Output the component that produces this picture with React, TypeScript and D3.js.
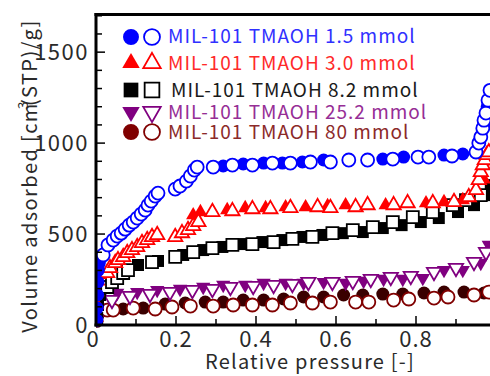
import React from "react";
import * as d3 from "d3";

// ---------- data (relative pressure, volume adsorbed) ----------
// 1.5 mmol (blue circles)
const blueAdsP = [0.002, 0.003, 0.004, 0.005, 0.006, 0.008, 0.012, 0.318, 0.368, 0.419, 0.466, 0.516, 0.569, 0.717, 0.769, 0.87, 0.917, 0.972, 0.978];
const blueAdsV = [27, 93, 165, 236, 302, 340, 368, 874, 885, 890, 890, 896, 907, 912, 923, 934, 940, 1100, 1200];
const blueDesP = [0.018, 0.03, 0.043, 0.053, 0.063, 0.073, 0.083, 0.093, 0.103, 0.113, 0.123, 0.13, 0.138, 0.148, 0.155, 0.198, 0.21, 0.226, 0.236, 0.246, 0.253, 0.293, 0.341, 0.391, 0.441, 0.486, 0.536, 0.586, 0.632, 0.679, 0.742, 0.805, 0.832, 0.89, 0.95, 0.957, 0.962, 0.967, 0.97, 0.975, 0.98, 0.985];
const blueDesV = [385, 440, 467, 489, 505, 527, 549, 566, 588, 610, 632, 659, 681, 709, 725, 747, 764, 791, 819, 852, 868, 868, 879, 879, 890, 890, 896, 896, 907, 907, 912, 923, 923, 929, 951, 1000, 1033, 1082, 1126, 1165, 1236, 1290];

// 3.0 mmol (red triangles)
const redAdsP = [0.002, 0.003, 0.004, 0.006, 0.01, 0.243, 0.261, 0.328, 0.373, 0.424, 0.474, 0.524, 0.579, 0.624, 0.724, 0.825, 0.87, 0.917, 0.97, 0.98];
const redAdsV = [40, 110, 180, 240, 275, 604, 621, 632, 643, 643, 648, 648, 654, 659, 659, 670, 676, 687, 800, 900];
const redDesP = [0.028, 0.035, 0.048, 0.055, 0.068, 0.078, 0.09, 0.103, 0.115, 0.128, 0.14, 0.153, 0.198, 0.215, 0.23, 0.243, 0.256, 0.291, 0.341, 0.391, 0.436, 0.486, 0.554, 0.586, 0.649, 0.679, 0.744, 0.779, 0.842, 0.895, 0.932, 0.95, 0.957, 0.962, 0.967, 0.972, 0.977, 0.982];
const redDesV = [286, 313, 341, 357, 374, 396, 412, 429, 451, 467, 484, 495, 484, 505, 522, 544, 566, 621, 626, 637, 637, 643, 648, 643, 648, 659, 659, 670, 670, 676, 703, 742, 797, 841, 879, 907, 934, 950];

// 8.2 mmol (black squares)
const blackAdsP = [0.003, 0.005, 0.01, 0.105, 0.155, 0.218, 0.268, 0.316, 0.366, 0.416, 0.466, 0.516, 0.566, 0.617, 0.667, 0.717, 0.764, 0.812, 0.857, 0.905, 0.945, 0.982, 0.987];
const blackAdsV = [38, 110, 165, 330, 352, 385, 412, 429, 445, 456, 467, 484, 495, 505, 511, 533, 549, 566, 588, 621, 659, 714, 769];
const blackDesP = [0.028, 0.04, 0.053, 0.068, 0.08, 0.14, 0.198, 0.243, 0.291, 0.341, 0.391, 0.444, 0.491, 0.541, 0.591, 0.642, 0.692, 0.742, 0.792, 0.842, 0.892, 0.925, 0.962];
const blackDesV = [209, 236, 258, 286, 302, 346, 374, 401, 423, 440, 445, 456, 473, 484, 505, 522, 538, 566, 593, 621, 659, 687, 714];

// 25.2 mmol (purple down-triangles)
const purpleAdsP = [0.003, 0.005, 0.01, 0.053, 0.103, 0.153, 0.21, 0.268, 0.318, 0.373, 0.419, 0.474, 0.519, 0.569, 0.624, 0.669, 0.719, 0.767, 0.817, 0.87, 0.917, 0.962, 0.982];
const purpleAdsV = [30, 90, 150, 176, 181, 192, 198, 209, 220, 220, 231, 231, 231, 236, 231, 242, 253, 253, 258, 302, 302, 341, 440];
const purpleDesP = [0.04, 0.085, 0.135, 0.185, 0.241, 0.291, 0.336, 0.393, 0.444, 0.491, 0.531, 0.591, 0.642, 0.687, 0.737, 0.787, 0.845, 0.9, 0.945, 0.975];
const purpleDesV = [137, 159, 170, 181, 192, 198, 209, 214, 220, 225, 236, 236, 242, 253, 264, 269, 291, 313, 346, 401];

// 80 mmol (maroon circles)
const maroonAdsP = [0.002, 0.004, 0.01, 0.068, 0.118, 0.173, 0.223, 0.273, 0.318, 0.368, 0.419, 0.469, 0.519, 0.569, 0.619, 0.667, 0.717, 0.767, 0.82, 0.87, 0.92, 0.97];
const maroonAdsV = [20, 50, 71, 88, 93, 115, 121, 126, 126, 137, 137, 143, 154, 154, 165, 165, 170, 170, 176, 181, 181, 176];
const maroonDesP = [0.028, 0.043, 0.093, 0.148, 0.19, 0.236, 0.293, 0.343, 0.391, 0.441, 0.486, 0.541, 0.586, 0.649, 0.682, 0.744, 0.782, 0.845, 0.88, 0.945, 0.982];
const maroonDesV = [82, 82, 93, 88, 99, 104, 104, 110, 110, 110, 121, 121, 126, 126, 126, 137, 143, 148, 154, 165, 181];

const legendLabels = [
  "MIL-101 TMAOH 1.5 mmol",
  "MIL-101 TMAOH 3.0 mmol",
  "MIL-101 TMAOH 8.2 mmol",
  "MIL-101 TMAOH 25.2 mmol",
  "MIL-101 TMAOH 80 mmol",
];
const xTickValues = [0, 0.2, 0.4, 0.6, 0.8, 1];
const xTickLabels = ["0", "0.2", "0.4", "0.6", "0.8", "1"];
const yTickValues = [0, 500, 1000, 1500];
const yTickLabels = ["0", "500", "1000", "1500"];

// ---------- layout ----------
const W = 490;
const H = 376;
const FONT = "'Noto Sans CJK JP', 'Noto Sans', sans-serif";
const left = 96;
const top = 14.5;
const bottom = 325;
const right = 496;

const x = d3.scaleLinear().domain([0, 1]).range([left, right]);
const y = d3.scaleLinear().domain([0, 1707]).range([bottom, top]);

type SeriesDef = {
  adsP: number[]; adsV: number[]; desP: number[]; desV: number[];
  shape: "circle" | "triangle" | "square" | "down";
  fill: string; stroke: string; text: string; legendFill: string;
};

const series: SeriesDef[] = [
  { adsP: blueAdsP, adsV: blueAdsV, desP: blueDesP, desV: blueDesV, shape: "circle", fill: "#0000ff", stroke: "#0000ff", text: "#3030ff", legendFill: "#0000ff" },
  { adsP: redAdsP, adsV: redAdsV, desP: redDesP, desV: redDesV, shape: "triangle", fill: "#ff0000", stroke: "#ff0000", text: "#ff2a2a", legendFill: "#ff0000" },
  { adsP: blackAdsP, adsV: blackAdsV, desP: blackDesP, desV: blackDesV, shape: "square", fill: "#000000", stroke: "#000000", text: "#1a1a1a", legendFill: "#000000" },
  { adsP: purpleAdsP, adsV: purpleAdsV, desP: purpleDesP, desV: purpleDesV, shape: "down", fill: "#800080", stroke: "#800080", text: "#962e96", legendFill: "#800080" },
  { adsP: maroonAdsP, adsV: maroonAdsV, desP: maroonDesP, desV: maroonDesV, shape: "circle", fill: "#3a0000", stroke: "#800000", text: "#8c2a2a", legendFill: "#800000" },
];

function symbolPath(shape: SeriesDef["shape"], scale: number) {
  if (shape === "circle") return d3.symbol().type(d3.symbolCircle).size(133 * scale)()!;
  if (shape === "square") return d3.symbol().type(d3.symbolSquare).size(144 * scale)()!;
  return d3.symbol().type(d3.symbolTriangle).size(88 * scale)()!;
}

function Marker({ s, cx, cy, open, scale = 1 }: { s: SeriesDef; cx: number; cy: number; open: boolean; scale?: number }) {
  const d = symbolPath(s.shape, scale);
  const rot = s.shape === "down" ? ` rotate(180)` : "";
  return (
    <path
      d={d}
      transform={`translate(${cx},${cy})${rot}`}
      fill={open ? "#ffffff" : s.fill}
      stroke={open ? s.stroke : "none"}
      strokeWidth={open ? 1.8 : 0}
    />
  );
}

export default function App() {
  const yMinor = d3.range(0, 1701, 100);
  const xMinor = d3.range(0, 1.001, 0.1);
  const order = [4, 3, 2, 1, 0];
  const legendY = [37, 63, 90, 112, 132];
  const legendTextY = [43, 70, 97, 119, 139];
  const legendTextX = [168, 168, 171, 168, 168];
  return (
    <svg width={W} height={H} style={{ position: "absolute", left: 0, top: 0, background: "#fff" }} fontFamily={FONT}>
      <defs>
        <clipPath id="plot">
          <rect x={left} y={0} width={W - left} height={bottom + 8} />
        </clipPath>
      </defs>
      <rect width={W} height={H} fill="#ffffff" />
      {/* data */}
      <g clipPath="url(#plot)">
        {order.map((i) => {
          const s = series[i];
          return (
            <g key={i}>
              {s.adsP.map((p, k) => (
                <Marker key={"a" + k} s={s} cx={x(p)} cy={y(s.adsV[k])} open={false} />
              ))}
              {s.desP.map((p, k) => (
                <Marker key={"d" + k} s={s} cx={x(p)} cy={y(s.desV[k])} open={true} />
              ))}
            </g>
          );
        })}
      </g>
      {/* ticks */}
      {yMinor.map((v) => (
        <line key={"yt" + v} x1={left} x2={left + (v % 500 === 0 ? 9 : 6)} y1={y(v)} y2={y(v)} stroke="#000" strokeWidth={1.5} />
      ))}
      {xMinor.map((v, k) => (
        <line key={"xt" + k} x1={x(v)} x2={x(v)} y1={bottom} y2={bottom - (k % 2 === 0 ? 9 : 6)} stroke="#000" strokeWidth={1.5} />
      ))}
      {/* spines */}
      <line x1={left} x2={left} y1={top - 1.5} y2={bottom + 1.5} stroke="#000" strokeWidth={3} />
      <line x1={left - 1.5} x2={W} y1={top} y2={top} stroke="#000" strokeWidth={3} />
      <line x1={left - 1.5} x2={W} y1={bottom} y2={bottom} stroke="#000" strokeWidth={3} />
      {/* axis titles */}
      <text x={310} y={369} textAnchor="middle" fontSize={20} letterSpacing={1.2} fill="#2a2a2a">Relative pressure [-]</text>
      <text transform="translate(37,176) rotate(-90)" textAnchor="middle" fontSize={20} letterSpacing={1.4} fill="#2a2a2a">
        Volume adsorbed [cm<tspan fontSize={14} dy={-9} dx={-7}>3</tspan><tspan dy={9} dx={-6}>(STP)/g]</tspan>
      </text>
      {/* tick labels */}
      {yTickValues.map((v, k) => (
        <text key={"yl" + v} x={89} y={y(v)} dy="0.36em" textAnchor="end" fontSize={22} letterSpacing={1.5} fill="#2a2a2a">
          {yTickLabels[k]}
        </text>
      ))}
      {xTickValues.map((v, k) => (
        <text key={"xl" + v} x={x(v) - (k === 0 ? 3 : 0)} y={347} textAnchor="middle" fontSize={22} letterSpacing={1} fill="#2a2a2a">
          {xTickLabels[k]}
        </text>
      ))}
      {/* legend */}
      {series.map((s, i) => {
        const ls = { ...s, fill: s.legendFill };
        return (
          <g key={"lg" + i}>
            <Marker s={ls} cx={131} cy={legendY[i]} open={false} scale={1.5} />
            <Marker s={ls} cx={152} cy={legendY[i]} open={true} scale={1.5} />
            <text x={legendTextX[i]} y={legendTextY[i]} fontSize={19} letterSpacing={1} fill={s.text}>{legendLabels[i]}</text>
          </g>
        );
      })}
    </svg>
  );
}
